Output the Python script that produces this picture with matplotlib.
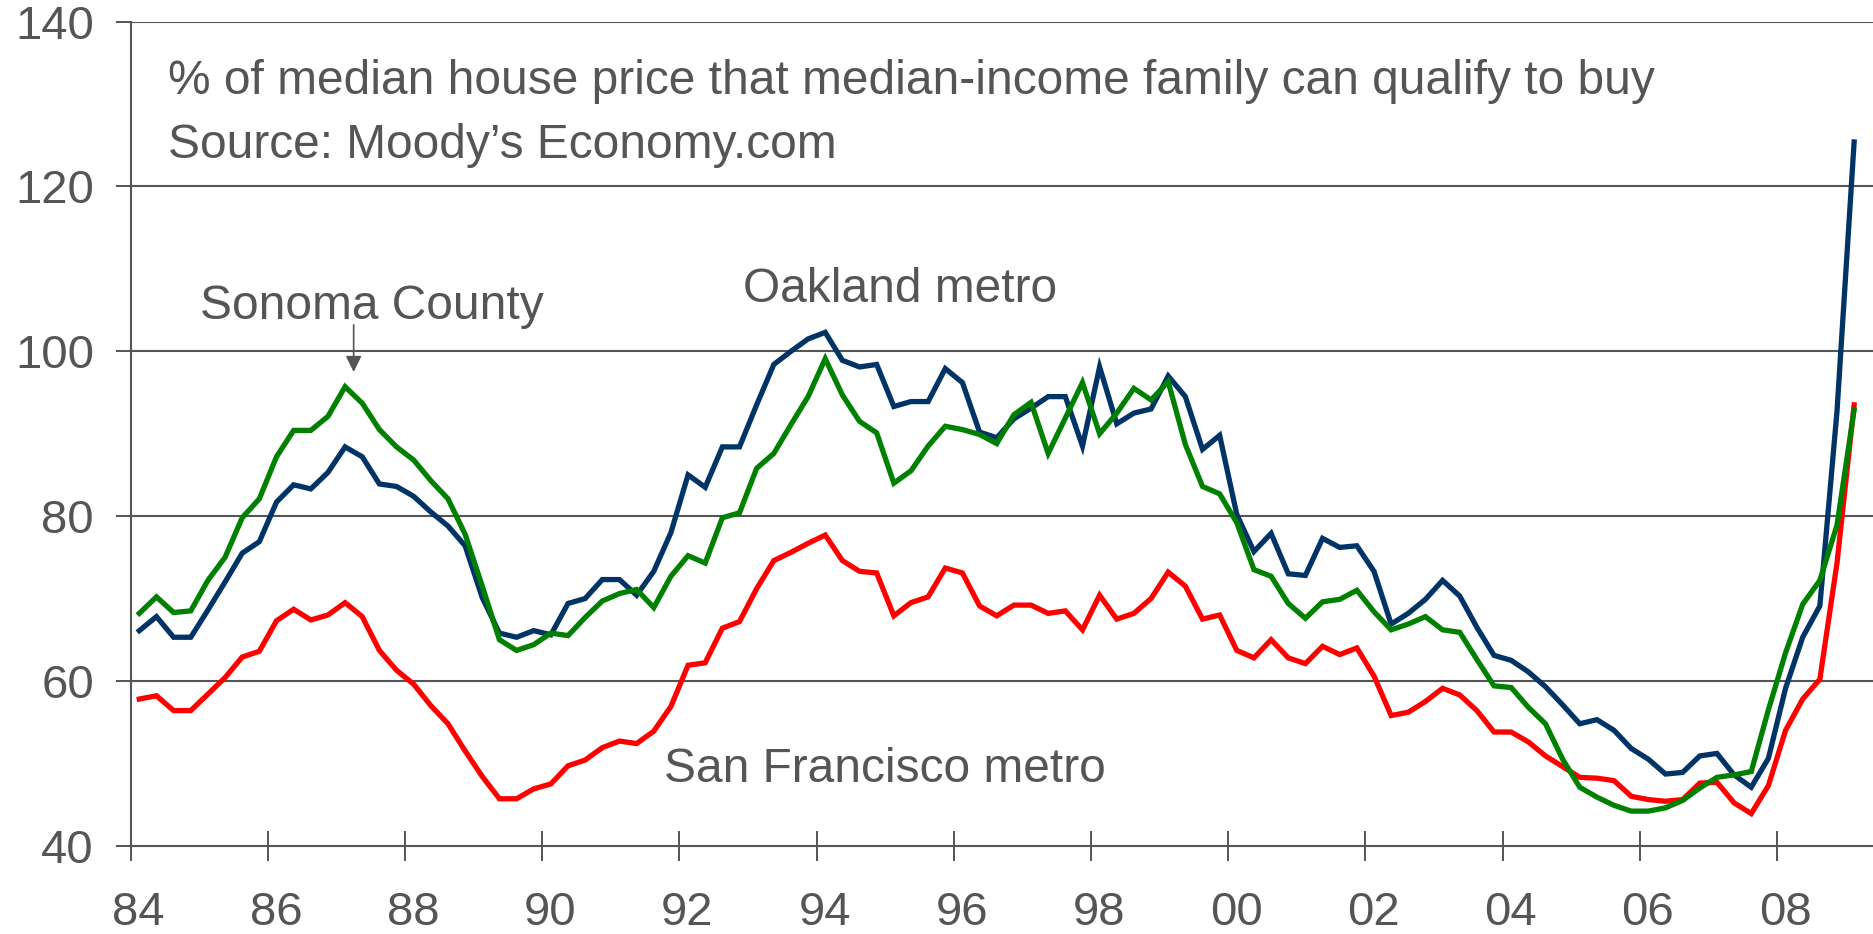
import numpy as np
import matplotlib
matplotlib.use("Agg")
import matplotlib.pyplot as plt
from matplotlib.transforms import ScaledTranslation

# quarterly readings, 1984Q1 .. 2009Q1
oakland = [66.1, 67.8, 65.3, 65.3, 68.6, 72.0, 75.5, 76.9, 81.7, 83.8, 83.3, 85.3, 88.4, 87.2, 83.9, 83.6,
           82.4, 80.5, 78.8, 76.4, 70.1, 65.8, 65.3, 66.1, 65.6, 69.4, 70.0, 72.3, 72.3, 70.4, 73.3, 78.0,
           85.0, 83.5, 88.4, 88.4, 93.5, 98.4, 100.0, 101.5, 102.3, 98.9, 98.1, 98.4, 93.3, 93.9, 93.9, 97.9,
           96.2, 90.2, 89.5, 91.8, 93.1, 94.5, 94.5, 88.5, 98.1, 91.2, 92.5, 93.0, 97.0, 94.5, 88.1, 89.8,
           80.2, 75.7, 77.9, 73.0, 72.8, 77.3, 76.2, 76.4, 73.3, 66.9, 68.2, 69.9, 72.2, 70.3, 66.5, 63.1,
           62.5, 61.1, 59.3, 57.1, 54.8, 55.3, 54.0, 51.8, 50.5, 48.7, 48.9, 50.9, 51.2, 48.6, 47.1, 50.6,
           59.1, 65.3, 69.1, 92.7, 125.4]
sonoma = [68.2, 70.2, 68.3, 68.5, 72.2, 75.0, 79.8, 82.1, 87.2, 90.4, 90.4, 92.1, 95.7, 93.7, 90.5, 88.4,
          86.8, 84.3, 82.1, 77.8, 71.5, 65.0, 63.7, 64.4, 65.8, 65.5, 67.7, 69.7, 70.6, 71.1, 68.9, 72.7,
          75.2, 74.3, 79.8, 80.4, 85.8, 87.6, 91.1, 94.5, 99.1, 94.7, 91.5, 90.1, 84.0, 85.5, 88.5, 90.9,
          90.5, 89.9, 88.8, 92.3, 93.8, 87.6, 91.9, 96.2, 90.0, 92.5, 95.5, 94.1, 96.3, 88.7, 83.6, 82.7,
          79.2, 73.5, 72.7, 69.4, 67.6, 69.6, 69.9, 71.0, 68.4, 66.2, 66.9, 67.8, 66.2, 65.9, 62.6, 59.4,
          59.2, 56.8, 54.8, 50.5, 47.1, 45.9, 44.9, 44.2, 44.2, 44.6, 45.5, 47.0, 48.3, 48.6, 49.0, 56.5,
          63.4, 69.3, 72.2, 78.9, 92.9]
san_francisco = [57.8, 58.2, 56.4, 56.4, 58.4, 60.4, 62.9, 63.6, 67.3, 68.7, 67.4, 68.0, 69.5, 67.8, 63.7, 61.3,
                 59.6, 57.0, 54.8, 51.5, 48.4, 45.7, 45.7, 46.9, 47.5, 49.7, 50.4, 51.9, 52.7, 52.4, 53.9, 56.9,
                 61.9, 62.2, 66.4, 67.2, 71.2, 74.6, 75.6, 76.7, 77.7, 74.6, 73.3, 73.1, 67.9, 69.5, 70.2, 73.7,
                 73.1, 69.1, 67.9, 69.2, 69.2, 68.2, 68.5, 66.2, 70.4, 67.5, 68.2, 70.0, 73.2, 71.5, 67.5, 68.0,
                 63.7, 62.8, 65.0, 62.8, 62.1, 64.2, 63.2, 64.0, 60.6, 55.8, 56.2, 57.5, 59.1, 58.3, 56.4, 53.8,
                 53.8, 52.6, 50.9, 49.6, 48.3, 48.2, 47.9, 46.0, 45.6, 45.4, 45.6, 47.6, 47.7, 45.2, 43.9, 47.3,
                 54.0, 57.8, 60.2, 74.3, 93.5]
# mid-quarter positions in decimal years
quarters = 1984.125 + 0.25 * np.arange(len(oakland))

tick_years = list(range(1984, 2009, 2))
tick_labels = ["84", "86", "88", "90", "92", "94", "96", "98", "00", "02", "04", "06", "08"]
y_ticks = [40, 60, 80, 100, 120, 140]

gray = "#555555"
plt.rcParams["font.family"] = ["Liberation Sans", "DejaVu Sans"]

fig = plt.figure(figsize=(18.73, 9.34), dpi=100)
ax = fig.add_axes([0.0698, 0.0945, 1 - 0.0698, 0.9768 - 0.0945])

ax.plot(quarters, san_francisco, color="#ff0000", lw=3.8, solid_joinstyle="miter")
ax.plot(quarters, oakland, color="#003366", lw=3.8, solid_joinstyle="miter")
ax.plot(quarters, sonoma, color="#008000", lw=3.8, solid_joinstyle="miter")

ax.set_xlim(1984, 2009.4)
ax.set_ylim(40, 140)
ax.set_xticks(tick_years)
ax.set_xticklabels(tick_labels)
ax.set_yticks(y_ticks)

for g in y_ticks[1:]:
    ax.axhline(g, color=gray, lw=1.5, zorder=0)

for s in ["top", "right"]:
    ax.spines[s].set_visible(False)
for s in ["left", "bottom"]:
    ax.spines[s].set_color(gray)
    ax.spines[s].set_linewidth(1.5)

ax.tick_params(axis="x", direction="inout", length=21, width=1.4, color=gray,
               labelsize=34, labelcolor=gray, pad=22)
ax.tick_params(axis="y", direction="out", length=10.5, width=1.4, color=gray,
               labelsize=34, labelcolor=gray, pad=16)
# labels in the original sit a little right of their ticks
shift = ScaledTranslation(8 / 100, 0, fig.dpi_scale_trans)
for lab in ax.get_xticklabels():
    lab.set_transform(lab.get_transform() + shift)

ax.text(1984.54, 131.2, "% of median house price that median-income family can qualify to buy",
        fontsize=34.5, color=gray, va="baseline", ha="left")
ax.text(1984.54, 123.4, "Source: Moody\u2019s Economy.com",
        fontsize=34.5, color=gray, va="baseline", ha="left")

ax.text(1985.01, 103.9, "Sonoma County", fontsize=34.5, color=gray, va="baseline", ha="left")
ax.text(1992.92, 106.0, "Oakland metro", fontsize=34.5, color=gray, va="baseline", ha="left")
ax.text(1991.78, 47.7, "San Francisco metro", fontsize=34.5, color=gray, va="baseline", ha="left")

ax.annotate("", xy=(1987.25, 97.5), xytext=(1987.25, 103.2),
            arrowprops=dict(arrowstyle="-|>", color=gray, lw=1.2, mutation_scale=24,
                            shrinkA=0, shrinkB=0))

fig.savefig("out.png", dpi=100)
